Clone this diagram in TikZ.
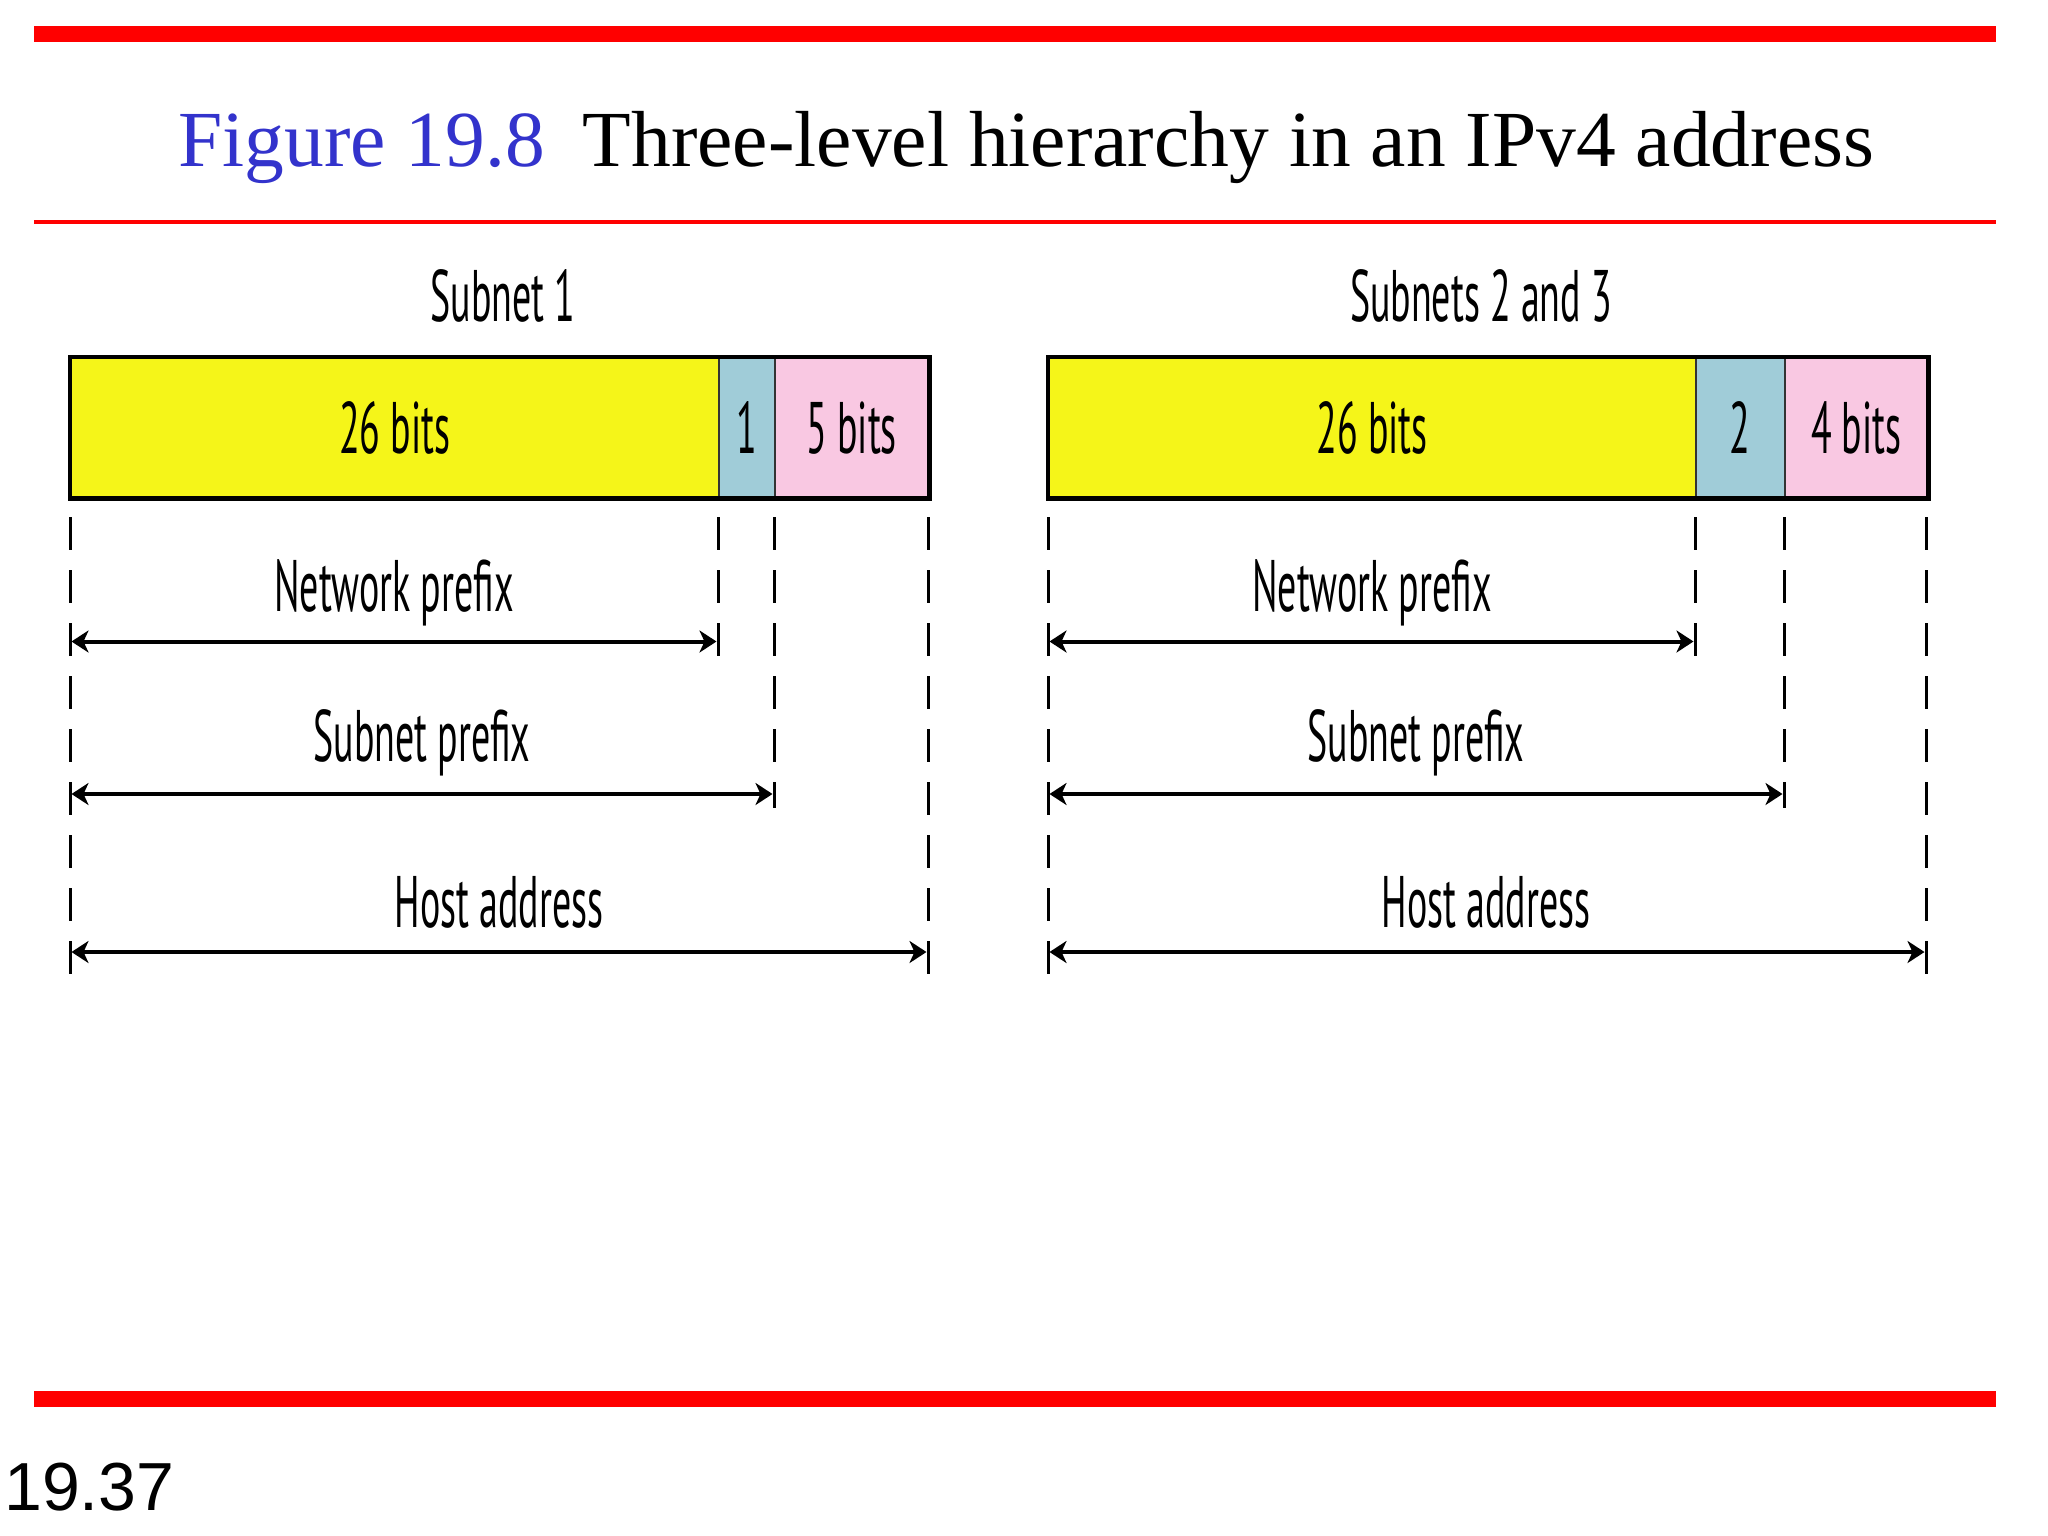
\documentclass[tikz,border=0pt]{standalone}
\usepackage{fontspec}
\setmainfont{Liberation Serif}
\newfontfamily\condfont[FakeStretch=0.52]{PT Sans}
\newfontfamily\arialfont{Liberation Sans}
\usetikzlibrary{arrows.meta}
\definecolor{yel}{RGB}{245,245,25}
\definecolor{blu}{RGB}{160,204,216}
\definecolor{pnk}{RGB}{249,200,226}
\definecolor{titleblue}{RGB}{51,51,204}
\definecolor{slidered}{RGB}{255,0,0}
\tikzset{
  cell/.style={draw=black!80, line width=1.5, minimum height=140, inner sep=0, anchor=north west,
    font=\condfont\fontsize{73}{80}\selectfont},
  outerbox/.style={draw=black, line width=4.5},
  guide/.style={draw=black, line width=3, dash pattern=on 33 off 20},
  dimarrow/.style={draw=black, line width=4, {Stealth[length=17, width=22, inset=5]}-{Stealth[length=17, width=22, inset=5]}, shorten <=1.5, shorten >=1.5},
  lbl/.style={anchor=base, inner sep=0, font=\condfont\fontsize{73}{80}\selectfont},
  redbar/.style={draw=none, fill=slidered}
}
\begin{document}
\begin{tikzpicture}[x=1pt, y=-1pt]
\useasboundingbox (0,0) rectangle (2048,1536);
% slide decorations
\fill[redbar] (34,26) rectangle (1996,42);
\fill[redbar] (34,220) rectangle (1996,223.5);
\fill[redbar] (34,1391) rectangle (1996,1407);
\node[anchor=base west, inner sep=0, font=\fontsize{79.5}{90}\selectfont] (title) at (178,167)
  {\textcolor{titleblue}{Figure 19.8}\hspace{38pt}Three-level hierarchy in an IPv4 address};
\node[anchor=base west, inner sep=0, font=\arialfont\fontsize{68}{80}\selectfont] (pageno) at (4,1510) {19.37};

% headings
\node[lbl] (h1) at (503,321) {Subnet 1};
\node[lbl] (h2) at (1481,321) {Subnets 2 and 3};

% left address
\node[cell, fill=yel, minimum width=648] (a1) at (70,357) {26 bits};
\node[cell, fill=blu, minimum width=56] (b1) at (718,357) {1};
\node[cell, fill=pnk, minimum width=154] (c1) at (774,357) {5 bits};
\draw[outerbox] (a1.north west) rectangle (c1.south east);

% right address
\node[cell, fill=yel, minimum width=647] (a2) at (1048,357) {26 bits};
\node[cell, fill=blu, minimum width=89] (b2) at (1695,357) {2};
\node[cell, fill=pnk, minimum width=143] (c2) at (1784,357) {4 bits};
\draw[outerbox] (a2.north west) rectangle (c2.south east);

% guide lines left
\coordinate (g1a) at (70,517);   \coordinate (g1a') at (70,977);
\coordinate (g1b) at (718,517);  \coordinate (g1b') at (718,656);
\coordinate (g1c) at (774,517);  \coordinate (g1c') at (774,808);
\coordinate (g1d) at (928,517);  \coordinate (g1d') at (928,977);
\draw[guide] (g1a) -- (g1a');
\draw[guide] (g1b) -- (g1b');
\draw[guide] (g1c) -- (g1c');
\draw[guide] (g1d) -- (g1d');
% guide lines right
\coordinate (g2a) at (1048,517);  \coordinate (g2a') at (1048,977);
\coordinate (g2b) at (1695,517);  \coordinate (g2b') at (1695,656);
\coordinate (g2c) at (1784,517);  \coordinate (g2c') at (1784,808);
\coordinate (g2d) at (1926,517);  \coordinate (g2d') at (1926,977);
\draw[guide] (g2a) -- (g2a');
\draw[guide] (g2b) -- (g2b');
\draw[guide] (g2c) -- (g2c');
\draw[guide] (g2d) -- (g2d');

% arrows left
\coordinate (n1l) at (70,641.5);  \coordinate (n1r) at (718,641.5);
\coordinate (s1l) at (70,794);    \coordinate (s1r) at (774,794);
\coordinate (t1l) at (70,952);    \coordinate (t1r) at (928,952);
\draw[dimarrow] (n1l) -- (n1r);
\draw[dimarrow] (s1l) -- (s1r);
\draw[dimarrow] (t1l) -- (t1r);
% arrows right
\coordinate (n2l) at (1048,641.5);  \coordinate (n2r) at (1695,641.5);
\coordinate (s2l) at (1048,794);    \coordinate (s2r) at (1784,794);
\coordinate (t2l) at (1048,952);    \coordinate (t2r) at (1926,952);
\draw[dimarrow] (n2l) -- (n2r);
\draw[dimarrow] (s2l) -- (s2r);
\draw[dimarrow] (t2l) -- (t2r);

% labels
\node[lbl] (np1) at (394,611) {Network prefix};
\node[lbl] (sp1) at (422,761) {Subnet prefix};
\node[lbl] (ha1) at (499,927) {Host address};
\node[lbl] (np2) at (1372,611) {Network prefix};
\node[lbl] (sp2) at (1416,761) {Subnet prefix};
\node[lbl] (ha2) at (1486,927) {Host address};
\end{tikzpicture}
\end{document}
